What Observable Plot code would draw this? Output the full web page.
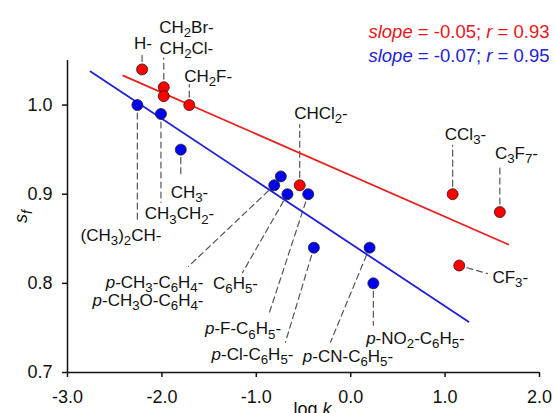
<!DOCTYPE html>
<html><head><meta charset="utf-8">
<script src="https://cdn.jsdelivr.net/npm/d3@7"></script>
<script src="https://cdn.jsdelivr.net/npm/@observablehq/plot@0.6"></script>
<style>html,body{margin:0;padding:0;background:#fff;} svg{display:block;}</style>
</head><body><div id="chart"></div>
<script>
// ---- data ----
const redNames = ["H-","CH2Br-","CH2Cl-","CH2F-","CHCl2-","CCl3-","C3F7-","CF3-"];
const redLogK  = [-2.21,-1.98,-1.98,-1.71,-0.54,1.08,1.58,1.15];
const redSf    = [1.04,1.02,1.01,1.00,0.91,0.90,0.88,0.82];

const blueNames = ["(CH3)2CH-","CH3CH2-","CH3-","p-CH3O-C6H4-","p-CH3-C6H4-","C6H5-","p-F-C6H5-","p-Cl-C6H5-","p-CN-C6H5-","p-NO2-C6H5-"];
const blueLogK  = [-2.26,-2.01,-1.80,-0.74,-0.81,-0.67,-0.45,-0.39,0.20,0.24];
const blueSf    = [1.00,0.99,0.95,0.92,0.91,0.90,0.90,0.84,0.84,0.80];

// fitted lines (end points as drawn)
const redFitLogK  = [-2.41, 1.67];
const redFitSf    = [1.033, 0.8436];
const blueFitLogK = [-2.756, 1.248];
const blueFitSf   = [1.0377, 0.757];

const fitSlope = [-0.05, -0.07];
const fitR     = [0.93, 0.95];

const xTicks = [-3, -2, -1, 0, 1, 2];
const yTicks = [0.7, 0.8, 0.9, 1.0];

// ---- label layout (positions in data units: label centre, leader end) ----
const labelLayout = [
  ["H-",           -2.20, 1.069, -2.21, 1.059],
  ["CH2Br-",       -1.74, 1.087, -1.98, 1.053],
  ["CH2Cl-",       -1.74, 1.0635, null, null],
  ["CH2F-",        -1.51, 1.032, -1.71, 1.023],
  ["CHCl2-",       -0.315, 0.991, -0.54, 0.978],
  ["CCl3-",        1.216, 0.967, 1.08, 0.955],
  ["C3F7-",        1.756, 0.946, 1.58, 0.932],
  ["CF3-",         1.69, 0.807, 1.449, 0.811],
  ["(CH3)2CH-",    -2.433, 0.854, -2.26, 0.8705],
  ["CH3CH2-",      -1.814, 0.878, -2.01, 0.891],
  ["CH3-",         -1.708, 0.902, -1.80, 0.921],
  ["p-CH3-C6H4-",  -2.078, 0.801, -1.718, 0.819],
  ["p-CH3O-C6H4-", -2.147, 0.781, null, null],
  ["C6H5-",        -1.22, 0.800, -1.146, 0.812],
  ["p-F-C6H5-",    -1.141, 0.749, -0.871, 0.764],
  ["p-Cl-C6H5-",   -1.04, 0.720, -0.691, 0.734],
  ["p-CN-C6H5-",   -0.029, 0.718, -0.214, 0.734],
  ["p-NO2-C6H5-",  0.686, 0.738, 0.24, 0.753]
];

// ---- build tables ----
const red = redNames.map((n, i) => ({name: n, x: redLogK[i], y: redSf[i]}));
const blue = blueNames.map((n, i) => ({name: n, x: blueLogK[i], y: blueSf[i]}));
const allPts = new Map([...red, ...blue].map(d => [d.name, d]));
const labels = labelLayout.map(([name, lx, ly, ex, ey]) => {
  const p = allPts.get(name);
  return {name, lx, ly, ex, ey, px: p.x, py: p.y};
});
const leaders = labels.filter(d => d.ex != null);
const redFit = redFitLogK.map((x, i) => ({x, y: redFitSf[i]}));
const blueFit = blueFitLogK.map((x, i) => ({x, y: blueFitSf[i]}));
const legendText = fitSlope.map((s, i) => `slope = ${s.toFixed(2)}; r = ${fitR[i].toFixed(2)}`);

const RED_PT = "#ff0000", BLUE_PT = "#0000f0";

const chart = Plot.plot({
  width: 555, height: 413,
  marginLeft: 67, marginRight: 16, marginTop: 60, marginBottom: 41,
  x: {domain: [-3, 2]},
  y: {domain: [0.7, 1.05]},
  style: {fontFamily: "'Liberation Sans', Arial, sans-serif", fontSize: "18px", background: "white", color: "#111", overflow: "visible"},
  marks: [
    Plot.axisX({ticks: xTicks, tickFormat: d => d.toFixed(1), tickSize: 5, tickPadding: 13, strokeWidth: 1.5, label: null, fontSize: 18}),
    Plot.axisY({ticks: yTicks, tickFormat: d => d.toFixed(1), tickSize: 5, tickPadding: 10, strokeWidth: 1.5, label: null, fontSize: 18}),
    Plot.ruleX([-3], {stroke: "#111", strokeWidth: 1.5}),
    Plot.ruleY([0.7], {stroke: "#111", strokeWidth: 1.5}),
    Plot.arrow(leaders, {x1: "px", y1: "py", x2: "ex", y2: "ey", headLength: 0, insetStart: 8, stroke: "#555", strokeWidth: 1.2, strokeDasharray: "6,4"}),
    Plot.line(redFit, {x: "x", y: "y", stroke: "#e8201c", strokeWidth: 1.8}),
    Plot.line(blueFit, {x: "x", y: "y", stroke: "#1f1fd6", strokeWidth: 1.8}),
    Plot.dot(blue, {x: "x", y: "y", r: 5.5, fill: BLUE_PT, stroke: "#222", strokeWidth: 0.8}),
    Plot.dot(red, {x: "x", y: "y", r: 5.5, fill: RED_PT, stroke: "#331111", strokeWidth: 0.8}),
    Plot.text(labels, {x: "lx", y: "ly", text: "name", fontSize: 17, textAnchor: "middle", fill: "#111"}),
    Plot.text([legendText[0]], {fill: "#e8161c", frameAnchor: "top-right", textAnchor: "end", fontSize: 18.5, dx: 10, dy: -36}),
    Plot.text([legendText[1]], {fill: "#2323d2", frameAnchor: "top-right", textAnchor: "end", fontSize: 18.5, dx: 10, dy: -12}),
    Plot.text(["log k"], {frameAnchor: "bottom", lineAnchor: "top", dx: 9, dy: 30, fontSize: 18, fill: "#111"}),
    Plot.text(["s_f"], {frameAnchor: "left", dx: -46, rotate: -90, textAnchor: "middle", fontSize: 18, fill: "#111"})
  ]
});
document.getElementById("chart").appendChild(chart);

// ---- rich text: subscripts and italics as tspans ----
const SVGNS = "http://www.w3.org/2000/svg";
function setRich(el, segs) {
  const fs = parseFloat(getComputedStyle(el).fontSize) || 17;
  const shift = 0.25 * fs;
  while (el.firstChild) el.removeChild(el.firstChild);
  let cur = 0;
  for (const s of segs) {
    const t = document.createElementNS(SVGNS, "tspan");
    t.textContent = s.t;
    const target = s.sub ? shift : 0;
    if (target !== cur) t.setAttribute("dy", String(target - cur));
    cur = target;
    if (s.sub) t.setAttribute("font-size", (0.78 * fs) + "px");
    if (s.it) t.setAttribute("font-style", "italic");
    el.appendChild(t);
  }
}
function chemSegs(name) {
  const segs = [];
  let s = name;
  if (s.startsWith("p-")) { segs.push({t: "p", it: true}); s = s.slice(1); }
  for (const p of s.match(/\d+|\D+/g)) segs.push({t: p, sub: /\d/.test(p)});
  return segs;
}
const nameSet = new Set(labelLayout.map(d => d[0]));
chart.querySelectorAll("text").forEach(el => {
  const s = el.textContent;
  if (nameSet.has(s)) setRich(el, chemSegs(s));
  else if (s.startsWith("slope =")) {
    const m = s.match(/^slope( = .*; )r( = .*)$/);
    setRich(el, [{t: "slope", it: true}, {t: m[1]}, {t: "r", it: true}, {t: m[2]}]);
  } else if (s === "log k") setRich(el, [{t: "log "}, {t: "k", it: true}]);
  else if (s === "s_f") setRich(el, [{t: "s", it: true}, {t: "f", it: true, sub: true}]);
});
</script></body></html>
